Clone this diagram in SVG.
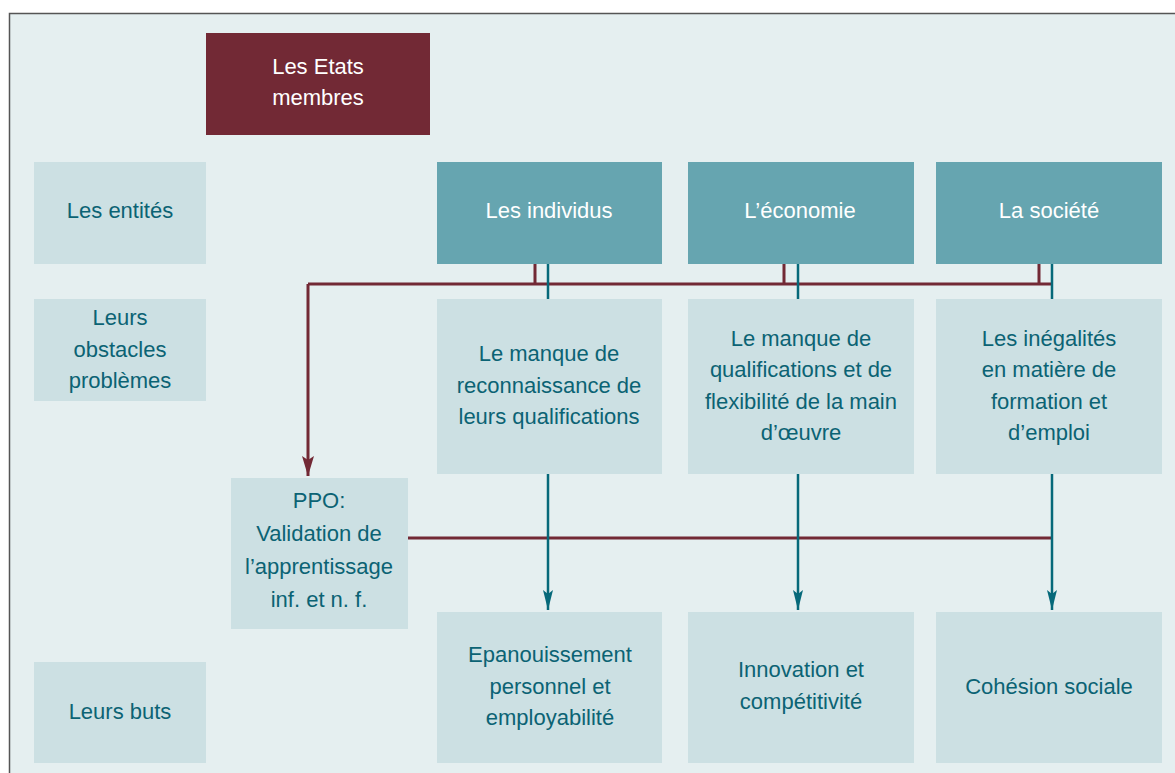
<svg xmlns="http://www.w3.org/2000/svg" width="1175" height="773" viewBox="0 0 1175 773">
<defs>
<style>
.lb{fill:#cce0e3}
.tl{fill:#66a5b0}
.t{font-family:"Liberation Sans",Arial,sans-serif;font-size:22px;text-anchor:middle;fill:#0b6374}
.w{fill:#ffffff}
.red{stroke:#722935;stroke-width:3;fill:none}
.teal{stroke:#06697a;stroke-width:2.5;fill:none}
</style>
<marker id="ar" viewBox="0 0 20 10" refX="20" refY="5" markerWidth="20" markerHeight="10" markerUnits="userSpaceOnUse" orient="auto">
<path d="M0,0 L20,5 L0,10 L4,5 Z" fill="#06697a"/>
</marker>
<marker id="arr" viewBox="0 0 20 12" refX="20" refY="6" markerWidth="20" markerHeight="12" markerUnits="userSpaceOnUse" orient="auto">
<path d="M0,0 L20,6 L0,12 L4,6 Z" fill="#722935"/>
</marker>
</defs>
<rect x="0" y="0" width="1175" height="773" fill="#ffffff"/>
<rect x="9.5" y="13.5" width="1180" height="780" fill="#e5eff0" stroke="#555555" stroke-width="1.5"/>

<g id="etats"><rect x="206" y="33" width="224" height="102" fill="#722935"/><text class="t w" x="318" y="74">Les Etats</text><text class="t w" x="318" y="105">membres</text></g>

<g id="lbl-entites"><rect class="lb" x="34" y="162" width="172" height="102"/><text class="t" x="120" y="218">Les entités</text></g>
<g id="lbl-obstacles"><rect class="lb" x="34" y="299" width="172" height="102"/><text class="t" x="120" y="325">Leurs</text><text class="t" x="120" y="357">obstacles</text><text class="t" x="120" y="388">problèmes</text></g>
<g id="lbl-buts"><rect class="lb" x="34" y="662" width="172" height="101"/><text class="t" x="120" y="719">Leurs buts</text></g>

<g id="individus"><rect class="tl" x="437" y="162" width="225" height="102"/><text class="t w" x="549" y="218">Les individus</text></g>
<g id="economie"><rect class="tl" x="688" y="162" width="226" height="102"/><text class="t w" x="800" y="218">L’économie</text></g>
<g id="societe"><rect class="tl" x="936" y="162" width="226" height="102"/><text class="t w" x="1049" y="218">La société</text></g>

<g id="obs1"><rect class="lb" x="437" y="299" width="225" height="175"/><text class="t" x="549" y="361">Le manque de</text><text class="t" x="549" y="393">reconnaissance de</text><text class="t" x="549" y="424">leurs qualifications</text></g>
<g id="obs2"><rect class="lb" x="688" y="299" width="226" height="175"/><text class="t" x="801" y="346">Le manque de</text><text class="t" x="801" y="377">qualifications et de</text><text class="t" x="801" y="409">flexibilité de la main</text><text class="t" x="801" y="440">d’œuvre</text></g>
<g id="obs3"><rect class="lb" x="936" y="299" width="226" height="175"/><text class="t" x="1049" y="346">Les inégalités</text><text class="t" x="1049" y="377">en matière de</text><text class="t" x="1049" y="409">formation et</text><text class="t" x="1049" y="440">d’emploi</text></g>

<g id="ppo"><rect class="lb" x="231" y="478" width="177" height="151"/><text class="t" x="319" y="508">PPO:</text><text class="t" x="319" y="541">Validation de</text><text class="t" x="319" y="574">l’apprentissage</text><text class="t" x="319" y="607">inf. et n. f.</text></g>

<g id="but1"><rect class="lb" x="437" y="612" width="225" height="151"/><text class="t" x="550" y="662">Epanouissement</text><text class="t" x="550" y="694">personnel et</text><text class="t" x="550" y="725">employabilité</text></g>
<g id="but2"><rect class="lb" x="688" y="612" width="226" height="151"/><text class="t" x="801" y="677">Innovation et</text><text class="t" x="801" y="709">compétitivité</text></g>
<g id="but3"><rect class="lb" x="936" y="612" width="226" height="151"/><text class="t" x="1049" y="694">Cohésion sociale</text></g>

<g id="connectors">
<path class="red" d="M535,264 V284 M784,264 V284 M1039,264 V284 M1052,284 H308"/>
<path class="red" d="M308,284 V476" marker-end="url(#arr)"/>
<path class="red" d="M408,538 H1052"/>
<path class="teal" d="M548,264 V299 M798,264 V299 M1052,264 V299"/>
<path class="teal" d="M548,474 V610" marker-end="url(#ar)"/>
<path class="teal" d="M798,474 V610" marker-end="url(#ar)"/>
<path class="teal" d="M1052,474 V610" marker-end="url(#ar)"/>
</g>
</svg>
